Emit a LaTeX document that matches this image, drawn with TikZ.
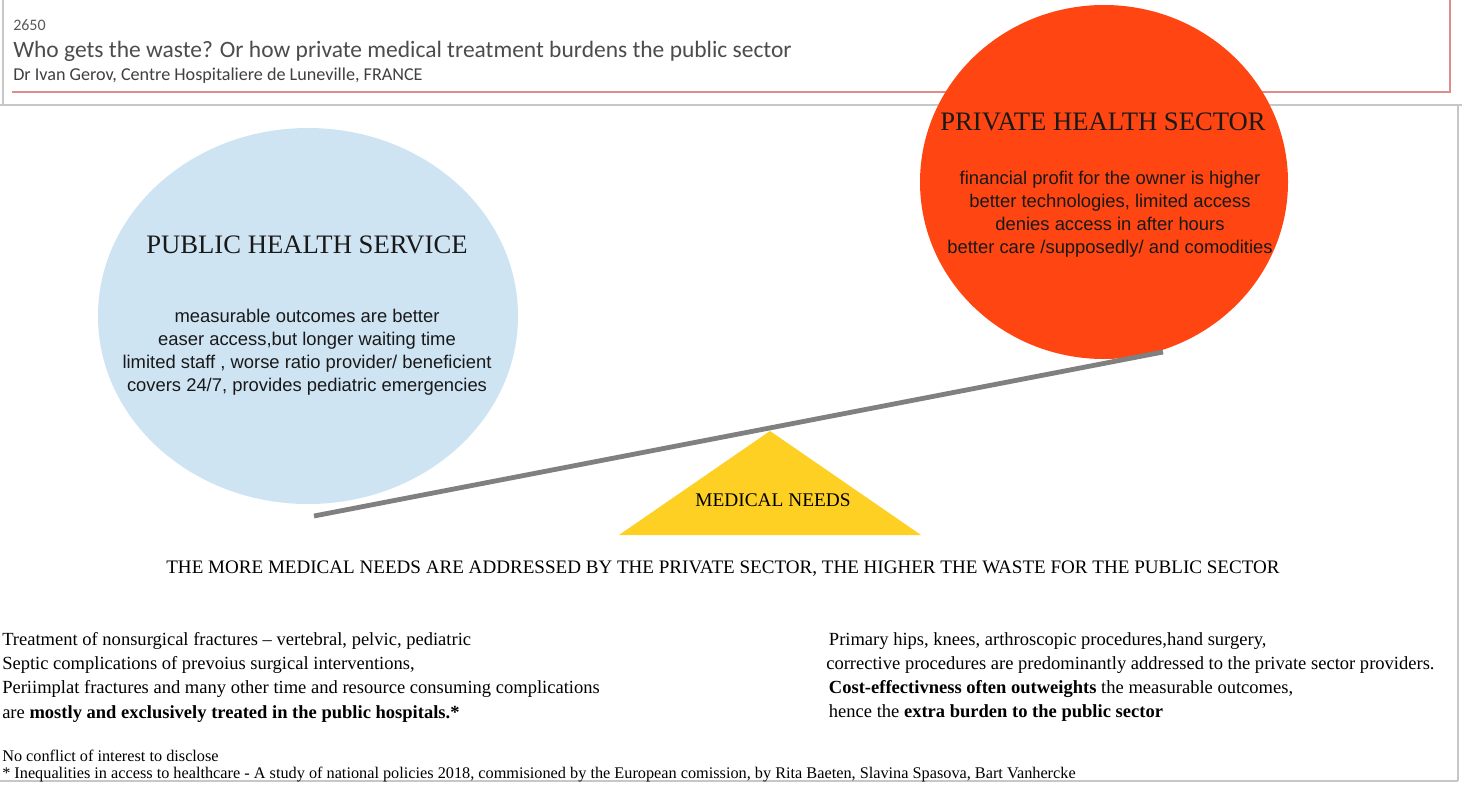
\documentclass[tikz,border=0pt]{standalone}
\usepackage{fontspec}
\setmainfont{Liberation Serif}
\newfontfamily\hdrfont{Carlito}
\newfontfamily\arialfont{Liberation Sans}
\begin{document}
\begin{tikzpicture}[x=0.75pt,y=-0.75pt,
  frame/.style={draw=black!22,line width=0.9pt},
  bubbletitle/.style={font=\fontsize{20}{24}\selectfont,text=black!90},
  bubbletext/.style={font=\arialfont\fontsize{13.8}{17.2}\selectfont,align=center,text=black!90},
  bodytext/.style={font=\fontsize{13.9}{18.2}\selectfont,align=left,anchor=north west,inner sep=0pt},
  beam/.style={draw=black!50,line width=3.6pt}]
\useasboundingbox (0,0) rectangle (1462,789);
\fill[white] (0,0) rectangle (1462,789);
% frames
\draw[frame] (3,0) -- (3,105);
\draw[frame] (0,105) -- (1462,105);
\draw[frame] (1458,105) -- (1458,781);
\draw[frame] (0,781) -- (1458,781);
\draw[draw={rgb,255:red,222;green,140;blue,140},line width=0.8pt] (12,92) -- (1450,92) -- (1450,0);
% header
\node[anchor=base west,inner sep=0pt,font=\hdrfont\fontsize{12}{14}\selectfont,text=black!65] (num) at (13,30) {2650};
\node[anchor=base west,inner sep=0pt,font=\hdrfont\fontsize{17.6}{20}\selectfont,text=black!70] (title) at (13,57) {Who gets the waste? Or how private medical treatment burdens the public sector};
\node[anchor=base west,inner sep=0pt,font=\hdrfont\fontsize{13.6}{16}\selectfont,text=black!75] (author) at (13,80) {Dr Ivan Gerov, Centre Hospitaliere de Luneville, FRANCE};
% bubbles
\fill[fill={rgb,255:red,207;green,228;blue,243}] (308,316) ellipse [x radius=210,y radius=188];
\coordinate (pub) at (308,316);
\fill[fill={rgb,255:red,255;green,69;blue,17}] (1104,182) ellipse [x radius=184,y radius=177];
\coordinate (priv) at (1104,182);
% beam and fulcrum
\coordinate (beamL) at (314,516);
\coordinate (beamR) at (1163,352);
\fill[fill={rgb,255:red,253;green,208;blue,35}] (770,431) -- (921,535) -- (619,535) -- cycle;
\coordinate (apex) at (770,431);
\draw[beam] (beamL) -- (beamR);
\node[font=\fontsize{14.5}{16}\selectfont] (needs) at (773,500) {MEDICAL NEEDS};
% bubble texts
\node[bubbletitle] (pubT) at (307,245) {PUBLIC HEALTH SERVICE};
\node[bubbletext] (pubB) at (307,352) {measurable outcomes are better\\ easer access,but longer waiting time\\limited staff , worse ratio provider/ beneficient\\covers 24/7, provides pediatric emergencies};
\node[bubbletitle] (privT) at (1103,122) {PRIVATE HEALTH SECTOR};
\node[bubbletext] (privB) at (1110,214) {financial profit for the owner is higher\\better technologies, limited access\\denies access in after hours\\ better care /supposedly/ and comodities};
% statement
\node[font=\fontsize{14.3}{16}\selectfont] (stmt) at (723,569) {THE MORE MEDICAL NEEDS ARE ADDRESSED BY THE PRIVATE SECTOR, THE HIGHER THE WASTE FOR THE PUBLIC SECTOR};
% lower blocks
\node[bodytext] (left) at (2,632) {Treatment of nonsurgical fractures -- vertebral, pelvic, pediatric\\Septic complications of prevoius surgical interventions,\\Periimplat fractures and many other time and resource consuming complications\\are \textbf{mostly and exclusively treated in the public hospitals.*}};
\node[bodytext] (right) at (826,632) {\hspace{2pt}Primary hips, knees, arthroscopic procedures,hand surgery,\\corrective procedures are predominantly addressed to the private sector providers.\\\hspace{2pt}\textbf{Cost-effectivness often outweights} the measurable outcomes,\\\hspace{2pt}hence the \textbf{extra burden to the public sector}};
% footer
\node[anchor=base west,inner sep=0pt,font=\fontsize{12.2}{14}\selectfont] (coi) at (2,761) {No conflict of interest to disclose};
\node[anchor=base west,inner sep=0pt,font=\fontsize{12.2}{14}\selectfont] (ref) at (2,778) {* Inequalities in access to healthcare - A study of national policies 2018, commisioned by the European comission, by Rita Baeten, Slavina Spasova, Bart Vanhercke};
\end{tikzpicture}
\end{document}
